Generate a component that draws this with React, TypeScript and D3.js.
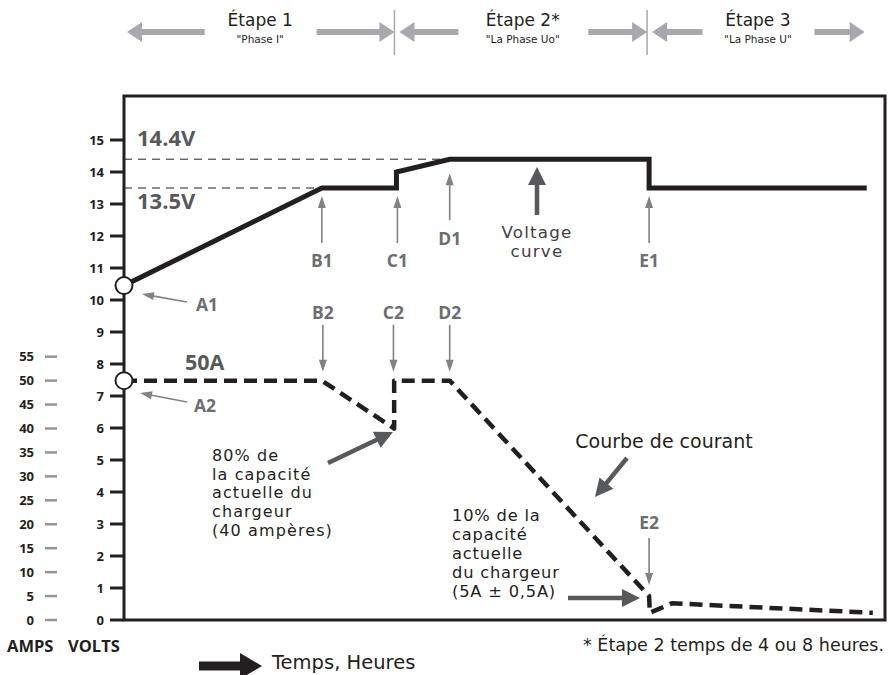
import React from 'react';
import * as d3 from 'd3';

const width = 888;
const height = 675;
const frame = { left: 124, top: 96, right: 885, bottom: 620 };

const dark = '#231f20';
const mid = '#58595b';
const grey = '#6d6e71';
const thin = '#808285';
const light = '#a7a9ac';
const boldFont = '"Open Sans", "Noto Sans", sans-serif';
const textFont = '"DejaVu Sans", "Liberation Sans", sans-serif';

// time has no ticks in the original, so it just runs 0..100 across the frame
const voltTicks = d3.range(0, 16);
const ampTicks = d3.range(0, 56, 5);

// key instants of the charge cycle
const tB = 26;
const tC = 35.8;
const tD = 42.8;
const tE = 69;
const tEnd = 97.6;

const voltTimes = [0, 26, 35.8, 35.8, 42.8, 69, 69, 97.6];
const voltValues = [10.45, 13.5, 13.5, 14.0, 14.4, 14.4, 13.5, 13.5];

const ampTimes = [0, 26, 35.5, 35.5, 42.8, 69, 69.1, 72, 98.4];
const ampValues = [50, 50, 40, 50, 50, 5, 1.5, 3.5, 1.5];

const refLevels = [
  { v: 14.4, until: tD, text: '14.4V' },
  { v: 13.5, until: tB, text: '13.5V' },
];

const stages = [
  { name: 'Étape 1', sub: '"Phase I"', from: 0, to: tC, gap: 112 },
  { name: 'Étape 2*', sub: '"La Phase Uo"', from: tC, to: tE, gap: 130 },
  { name: 'Étape 3', sub: '"La Phase U"', from: tE, to: tEnd, gap: 112 },
];

const text80 = ['80% de', 'la capacité', 'actuelle du', 'chargeur', '(40 ampères)'];
const text10 = ['10% de la', 'capacité', 'actuelle', 'du chargeur', '(5A ± 0,5A)'];
const textVoltage = ['Voltage', 'curve'];

const x = d3.scaleLinear().domain([0, 100]).range([frame.left, frame.right]);
const yV = d3.scaleLinear().domain([0, 15]).range([frame.bottom, 140]);
const yA = d3.scaleLinear().domain([0, 55]).range([frame.bottom, 356.7]);

// polygon for an arrow from (x1,y1) to the tip (x2,y2)
function arrow(x1, y1, x2, y2, shaft, headW, headL) {
  const len = Math.hypot(x2 - x1, y2 - y1);
  const ux = (x2 - x1) / len;
  const uy = (y2 - y1) / len;
  const nx = -uy;
  const ny = ux;
  const bx = x2 - ux * headL;
  const by = y2 - uy * headL;
  const s = shaft / 2;
  const h = headW / 2;
  return [
    [x1 + nx * s, y1 + ny * s],
    [bx + nx * s, by + ny * s],
    [bx + nx * h, by + ny * h],
    [x2, y2],
    [bx - nx * h, by - ny * h],
    [bx - nx * s, by - ny * s],
    [x1 - nx * s, y1 - ny * s],
  ].map((p) => p.join(',')).join(' ');
}

const Thin = ({ x1, y1, x2, y2 }) => (
  <polygon points={arrow(x1, y1, x2, y2, 1.6, 8, 12)} fill={thin} />
);

const Thick = ({ x1, y1, x2, y2 }) => (
  <polygon points={arrow(x1, y1, x2, y2, 4.5, 18, 18)} fill={mid} />
);

const Lines = ({ lines, x0, y0, step, size, spacing = 0, anchor = 'start', fill = dark }) => (
  <g fontFamily={textFont} fontSize={size} fill={fill} textAnchor={anchor} letterSpacing={spacing}>
    {lines.map((l, i) => (
      <text key={l} x={x0} y={y0 + i * step}>{l}</text>
    ))}
  </g>
);

export default function App() {
  const voltLine = d3.line()
    .x((d, i) => x(voltTimes[i]))
    .y((d) => yV(d))(voltValues);
  const ampLine = d3.line()
    .x((d, i) => x(ampTimes[i]))
    .y((d) => yA(d))(ampValues);

  const xB = x(tB);
  const xC = x(tC);
  const xD = x(tD);
  const xE = x(tE);
  const low = yV(13.5);
  const high = yV(14.4);
  const fifty = yA(50);

  return (
    <svg width={width} height={height} style={{ position: 'absolute', left: 0, top: 0, background: '#fff' }} fontFamily={boldFont}>
      {/* stage headers */}
      {stages.map((s, i) => {
        const x0 = x(s.from) + 3;
        const x1 = x(s.to) - 2;
        const cx = (x(s.from) + x(s.to)) / 2;
        const len = (x1 - x0 - s.gap) / 2;
        return (
          <g key={i} fontFamily={textFont} fill={dark} textAnchor="middle">
            <polygon points={arrow(x0 + len, 32, x0, 32, 6, 20, 15)} fill={light} />
            <polygon points={arrow(x1 - len, 32, x1, 32, 6, 20, 15)} fill={light} />
            <text x={cx} y={26} fontSize={17}>{s.name}</text>
            <text x={cx} y={43} fontSize={10.5}>{s.sub}</text>
          </g>
        );
      })}
      {[xC, xE].map((d, i) => (
        <line key={i} x1={d - 2} x2={d - 2} y1={10} y2={55} stroke={light} strokeWidth={1.5} />
      ))}

      {/* frame */}
      <rect x={frame.left} y={frame.top} width={frame.right - frame.left} height={frame.bottom - frame.top}
        fill="none" stroke={dark} strokeWidth={3} />

      {/* volt axis */}
      {voltTicks.map((t) => (
        <g key={t}>
          <line x1={110} x2={frame.left} y1={yV(t)} y2={yV(t)} stroke={dark} strokeWidth={3} />
          <text x={104} y={yV(t) + 4.5} textAnchor="end" fontSize={13} fontWeight={700} fill={dark}>{t}</text>
        </g>
      ))}
      {/* amp axis */}
      {ampTicks.map((t) => (
        <g key={t}>
          <line x1={45} x2={57} y1={yA(t)} y2={yA(t)} stroke="#939598" strokeWidth={2.5} />
          <text x={34} y={yA(t) + 4.5} textAnchor="end" fontSize={13} fontWeight={700} fill={dark}>{t}</text>
        </g>
      ))}
      <text x={7} y={652} fontSize={16.5} fontWeight={700} fill={dark}>AMPS</text>
      <text x={68} y={652} fontSize={16.5} fontWeight={700} fill={dark}>VOLTS</text>

      {/* reference levels */}
      {refLevels.map((r) => (
        <line key={r.text} x1={frame.left} x2={x(r.until)} y1={yV(r.v)} y2={yV(r.v)}
          stroke={dark} strokeWidth={1} strokeDasharray="8,6" />
      ))}
      <text x={137} y={146} fontSize={22} fontWeight={700} fill={mid}>14.4V</text>
      <text x={137} y={209} fontSize={22} fontWeight={700} fill={mid}>13.5V</text>
      <text x={185} y={370} fontSize={21.5} fontWeight={700} fill={mid}>50A</text>

      {/* curves */}
      <path d={voltLine} fill="none" stroke={dark} strokeWidth={5} strokeLinejoin="miter" />
      <path d={ampLine} fill="none" stroke={dark} strokeWidth={4.5} strokeDasharray="13,7" strokeLinejoin="round" />
      <circle cx={x(0)} cy={yV(voltValues[0])} r={8.5} fill="#fff" stroke={dark} strokeWidth={2} />
      <circle cx={x(0)} cy={yA(ampValues[0])} r={8.5} fill="#fff" stroke={dark} strokeWidth={2} />

      {/* point labels */}
      <Thin x1={187} y1={302} x2={142} y2={294} />
      <text x={196} y={311} fontSize={17.5} fontWeight={700} fill={grey}>A1</text>
      <Thin x1={187} y1={402} x2={140} y2={393} />
      <text x={194} y={412} fontSize={17.5} fontWeight={700} fill={grey}>A2</text>

      {[{ px: xB, t: 'B1' }, { px: xC + 1, t: 'C1' }, { px: xE, t: 'E1' }].map((d) => (
        <g key={d.t}>
          <Thin x1={d.px} y1={low + 55} x2={d.px} y2={low + 8} />
          <text x={d.px} y={low + 79} textAnchor="middle" fontSize={17.5} fontWeight={700} fill={grey}>{d.t}</text>
        </g>
      ))}
      <Thin x1={xD} y1={high + 61} x2={xD} y2={high + 14} />
      <text x={xD} y={high + 86} textAnchor="middle" fontSize={17.5} fontWeight={700} fill={grey}>D1</text>

      {[{ px: xB + 1, t: 'B2' }, { px: xC - 3, t: 'C2' }, { px: xD, t: 'D2' }].map((d) => (
        <g key={d.t}>
          <Thin x1={d.px} y1={fifty - 56} x2={d.px} y2={fifty - 9} />
          <text x={d.px} y={fifty - 62} textAnchor="middle" fontSize={17.5} fontWeight={700} fill={grey}>{d.t}</text>
        </g>
      ))}
      <Thin x1={xE} y1={yA(5) - 58} x2={xE} y2={yA(5) - 11} />
      <text x={xE} y={yA(5) - 67} textAnchor="middle" fontSize={17.5} fontWeight={700} fill={grey}>E2</text>

      {/* callouts */}
      <Thick x1={537} y1={215} x2={537} y2={167} />
      <Lines lines={textVoltage} x0={537} y0={237.5} step={19.5} size={16.7} spacing={1.2} anchor="middle" fill="#414042" />

      <Thick x1={328} y1={463} x2={393} y2={432} />
      <Lines lines={text80} x0={212} y0={461} step={18.7} size={16} spacing={1.1} />

      <text x={664} y={448} textAnchor="middle" fontSize={19} fontFamily={textFont} fill={dark}>Courbe de courant</text>
      <Thick x1={627} y1={458} x2={595} y2={497} />

      <Lines lines={text10} x0={452} y0={521} step={19} size={16.3} spacing={0.8} />
      <Thick x1={568} y1={598} x2={640} y2={598} />

      {/* footer */}
      <text x={884} y={651} textAnchor="end" fontSize={17.5} fontFamily={textFont} fill={dark}>* Étape 2 temps de 4 ou 8 heures.</text>
      <polygon points={arrow(199, 666, 262, 666, 9, 26, 22)} fill={dark} />
      <text x={272} y={669} fontSize={19.5} fontFamily={textFont} fill={dark}>Temps, Heures</text>
    </svg>
  );
}
